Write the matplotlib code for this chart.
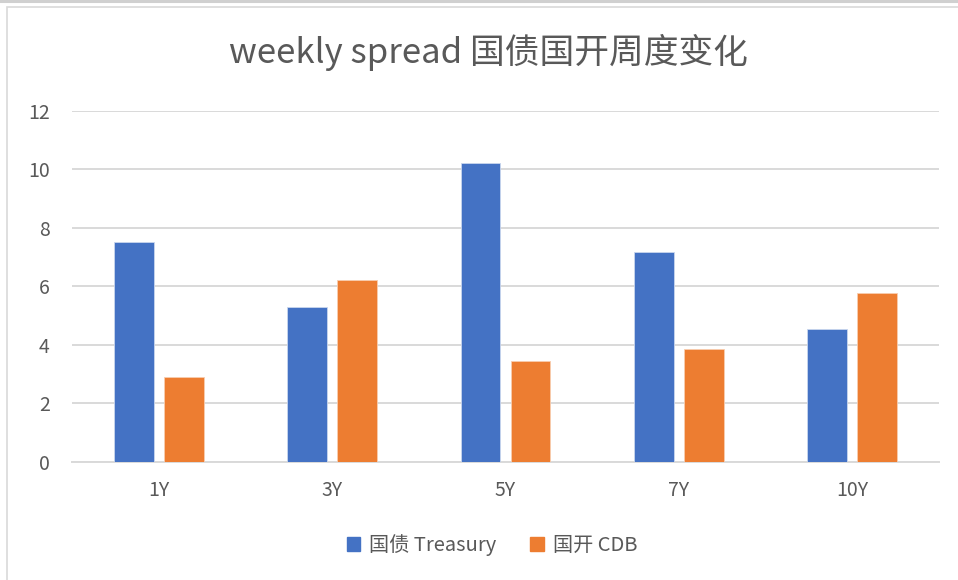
import matplotlib
matplotlib.use("Agg")
import matplotlib.pyplot as plt
import numpy as np
from matplotlib.patches import Rectangle
from matplotlib.lines import Line2D

plt.rcParams['font.family'] = ['Noto Sans CJK SC', 'DejaVu Sans']

categories = ["1Y", "3Y", "5Y", "7Y", "10Y"]
treasury = [7.52, 5.28, 10.21, 7.17, 4.54]
cdb = [2.91, 6.21, 3.44, 3.87, 5.77]
series_names = ["国债 Treasury", "国开 CDB"]
yticks = [0, 2, 4, 6, 8, 10, 12]
title = "weekly spread 国债国开周度变化"

BLUE = "#4472C4"
ORANGE = "#ED7D31"
TXT = "#595959"

fig = plt.figure(figsize=(9.58, 5.8), dpi=100)
fig.patch.set_facecolor("white")

# outer chart border lines
fig.add_artist(Line2D([0, 1], [1 - 1.2 / 580, 1 - 1.2 / 580], transform=fig.transFigure,
                      color="#D0D0D0", lw=2.2))
fig.add_artist(Rectangle((7 / 958, -0.05), 1.0, 1 - 7 / 580 + 0.05, transform=fig.transFigure,
                         fill=False, edgecolor="#D9D9D9", lw=1.2))

ax = fig.add_axes([72 / 958, (580 - 461.7) / 580, 867 / 958, 350.7 / 580])
x = np.arange(len(categories))
w = 0.23
off = 0.144
ax.bar(x - off, treasury, width=w, color=BLUE, edgecolor="#C9D6EE", linewidth=0.6,
       label=series_names[0], zorder=3)
ax.bar(x + off, cdb, width=w, color=ORANGE, edgecolor="#F8CDB0", linewidth=0.6,
       label=series_names[1], zorder=3)

ax.set_xlim(-0.5, len(categories) - 0.5)
ax.set_ylim(0, 12)
ax.set_yticks(yticks)
ax.set_yticklabels([str(v) for v in yticks])
ax.set_xticks(x)
ax.set_xticklabels(categories)
ax.grid(axis="y", color="#D9D9D9", lw=1.4, zorder=0)
ax.set_axisbelow(True)
for s in ["top", "right", "left"]:
    ax.spines[s].set_visible(False)
ax.spines["bottom"].set_color("#D9D9D9")
ax.spines["bottom"].set_linewidth(1.4)
ax.tick_params(axis="both", length=0, labelsize=14, labelcolor=TXT)
ax.tick_params(axis="x", pad=13)
ax.tick_params(axis="y", pad=16)

fig.text(488 / 958, 1 - 52 / 580, title, ha="center", va="center", fontsize=25, color=TXT)

handles = [Rectangle((0, 0), 1, 1, color=BLUE), Rectangle((0, 0), 1, 1, color=ORANGE)]
leg = fig.legend(handles, series_names, loc="center", bbox_to_anchor=(492 / 958, 1 - 545 / 580),
                 ncol=2, frameon=False, fontsize=14.5, handlelength=0.65, handleheight=0.65,
                 handletextpad=0.45, columnspacing=1.7, labelcolor=TXT)

fig.savefig("out.png", dpi=100)
